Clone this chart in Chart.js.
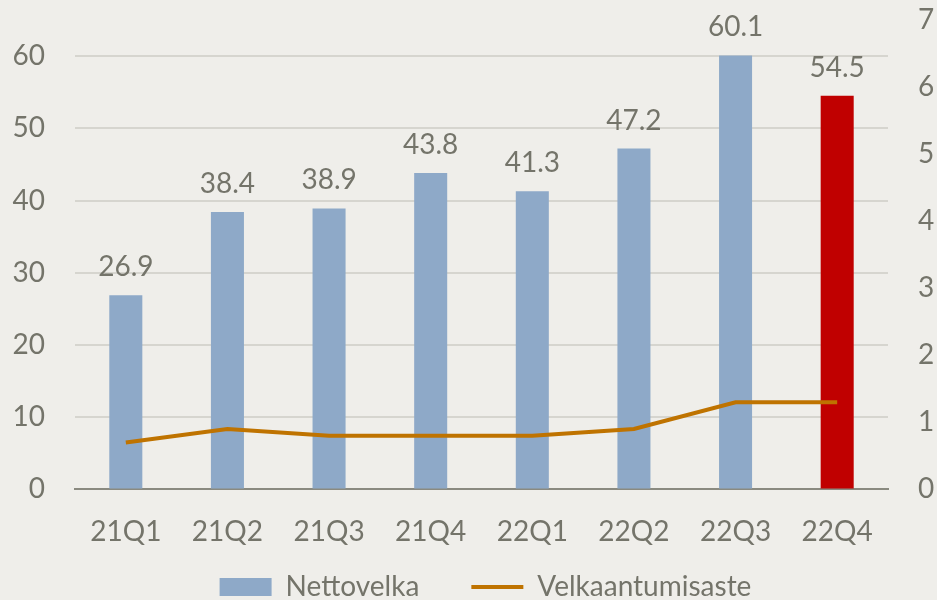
<!DOCTYPE html>
<html>
<head>
<meta charset="utf-8">
<script src="https://cdn.jsdelivr.net/npm/chart.js@4/dist/chart.umd.min.js"></script>
<style>
  html, body { margin: 0; padding: 0; background: #EFEEEA; }
  #wrap { width: 937px; height: 600px; position: relative; }
</style>
</head>
<body>
<div id="wrap"><canvas id="chart"></canvas></div>
<script>
const quarters = ['21Q1', '21Q2', '21Q3', '21Q4', '22Q1', '22Q2', '22Q3', '22Q4'];
const nettovelka = [26.9, 38.4, 38.9, 43.8, 41.3, 47.2, 60.1, 54.5];
const velkaantumisaste = [0.7, 0.9, 0.8, 0.8, 0.8, 0.9, 1.3, 1.3];
const barColors = ['#8EA9C8', '#8EA9C8', '#8EA9C8', '#8EA9C8', '#8EA9C8', '#8EA9C8', '#8EA9C8', '#C00000'];

const textColor = '#74746A';
const fontFamily = 'Lato, "Open Sans", sans-serif';

// arvot pylväiden yläpuolelle
const barLabels = {
  id: 'barLabels',
  afterDatasetsDraw(chart) {
    const ctx = chart.ctx;
    const meta = chart.getDatasetMeta(0);
    ctx.save();
    ctx.font = '28px ' + fontFamily;
    ctx.fillStyle = textColor;
    ctx.textAlign = 'center';
    ctx.textBaseline = 'alphabetic';
    meta.data.forEach((bar, i) => {
      ctx.fillText(nettovelka[i].toFixed(1), bar.x, bar.y - 19);
    });
    ctx.restore();
  }
};

// legenda hieman oikealle ja ylemmäs kuten alkuperäisessä
const shiftLegend = {
  id: 'shiftLegend',
  afterLayout(chart) {
    chart.legend.left += 34;
    chart.legend.top -= 4;
  }
};

new Chart(document.getElementById('chart'), {
  data: {
    labels: quarters,
    datasets: [
      {
        type: 'bar',
        label: 'Nettovelka',
        data: nettovelka,
        backgroundColor: barColors,
        yAxisID: 'y',
        barPercentage: 0.325,
        categoryPercentage: 1,
        order: 2
      },
      {
        type: 'line',
        label: 'Velkaantumisaste',
        data: velkaantumisaste,
        borderColor: '#BF7300',
        backgroundColor: '#BF7300',
        borderWidth: 4,
        pointRadius: 0,
        tension: 0,
        yAxisID: 'y1',
        order: 1
      }
    ]
  },
  options: {
    responsive: true,
    maintainAspectRatio: false,
    animation: false,
    layout: { padding: { top: 20, bottom: -15 } },
    plugins: {
      tooltip: { enabled: false },
      legend: {
        position: 'bottom',
        labels: {
          color: textColor,
          font: { family: fontFamily, size: 28 },
          usePointStyle: true,
          pointStyleWidth: 52,
          boxHeight: 18,
          padding: 10,
          sort: (a, b) => a.datasetIndex - b.datasetIndex,
          generateLabels: chart => {
            const items = Chart.defaults.plugins.legend.labels.generateLabels(chart);
            items.forEach(item => {
              if (item.datasetIndex === 0) {
                item.text = item.text + '\u2003\u2003'; // väli selitteiden väliin
                item.pointStyle = 'rect';
                item.fillStyle = '#8EA9C8';
                item.strokeStyle = '#8EA9C8';
                item.lineWidth = 0;
              } else {
                item.pointStyle = 'line';
                item.strokeStyle = '#BF7300';
                item.lineWidth = 4;
              }
            });
            return items;
          }
        }
      }
    },
    scales: {
      x: {
        grid: { display: false },
        border: { display: true, color: '#8A8A80', width: 2 },
        ticks: {
          color: textColor,
          font: { family: fontFamily, size: 28 },
          padding: 18
        }
      },
      y: {
        position: 'left',
        min: 0,
        max: 65,
        grid: { color: '#D6D5CF', lineWidth: 2, drawTicks: false },
        border: { display: false },
        ticks: {
          stepSize: 10,
          includeBounds: false,
          color: textColor,
          font: { family: fontFamily, size: 28 },
          padding: 30
        },
        afterFit: scale => { scale.width = 75; scale.paddingTop = 0; }
      },
      y1: {
        position: 'right',
        min: 0,
        max: 7,
        grid: { display: false, drawTicks: false },
        border: { display: false },
        ticks: {
          stepSize: 1,
          color: textColor,
          font: { family: fontFamily, size: 28 },
          padding: 30
        },
        afterFit: scale => { scale.width = 49; scale.paddingTop = 0; }
      }
    }
  },
  plugins: [barLabels, shiftLegend]
});
</script>
</body>
</html>
